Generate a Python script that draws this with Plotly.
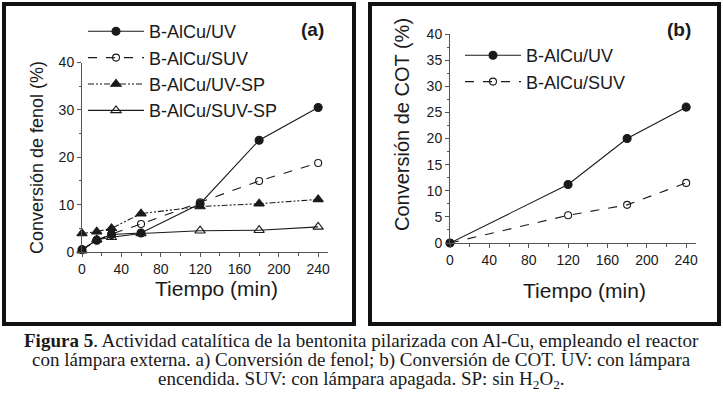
import plotly.graph_objects as go

# ---------------- data ----------------
time_a = [0, 15, 30, 60, 120, 180, 240]
uv_a = [0.5, 2.5, 3.7, 4.0, 10.2, 23.6, 30.5]
suv_a = [0.5, 2.5, 3.8, 5.9, 10.5, 15.0, 18.8]
uvsp_a = [3.9, 4.3, 5.0, 8.1, 9.6, 10.2, 11.1]
suvsp_a = [0.3, 2.6, 3.1, 3.9, 4.5, 4.6, 5.3]

time_b = [0, 120, 180, 240]
uv_b = [0.0, 11.2, 20.0, 26.0]
suv_b = [0.0, 5.3, 7.3, 11.5]

names_a = ["B-AlCu/UV", "B-AlCu/SUV", "B-AlCu/UV-SP", "B-AlCu/SUV-SP"]
names_b = ["B-AlCu/UV", "B-AlCu/SUV"]

x_ticks = [0, 40, 80, 120, 160, 200, 240]
ya_ticks = [0, 10, 20, 30, 40]
yb_ticks = [0, 5, 10, 15, 20, 25, 30, 35, 40]

W, H = 723, 398
FONT = "Arial, Liberation Sans, sans-serif"
SERIF = "Times New Roman, Liberation Serif, serif"
INK = "#1a1a1a"


def px(x):
    return x / W


def py(y):
    return 1 - y / H


fig = go.Figure()

styles_a = [
    dict(dash="solid", symbol="circle", size=8, fill=INK),
    dict(dash="dash", symbol="circle-open", size=7, fill=INK),
    dict(dash="6px,2px,2px,2px,2px,2px", symbol="triangle-up", size=9, fill=INK),
    dict(dash="solid", symbol="triangle-up-open", size=9, fill=INK),
]
series_a = [uv_a, suv_a, uvsp_a, suvsp_a]
for name, ys, st in zip(names_a, series_a, styles_a):
    fig.add_trace(go.Scatter(
        x=time_a, y=ys, name=name, mode="lines+markers",
        xaxis="x", yaxis="y", legend="legend",
        line=dict(color=INK, width=1.1, dash=st["dash"]),
        marker=dict(symbol=st["symbol"], size=st["size"], color=st["fill"],
                    line=dict(color=INK, width=1.1)),
        cliponaxis=False,
    ))

styles_b = [styles_a[0], styles_a[1]]
for name, ys, st in zip(names_b, [uv_b, suv_b], styles_b):
    fig.add_trace(go.Scatter(
        x=time_b, y=ys, name=name, mode="lines+markers",
        xaxis="x2", yaxis="y2", legend="legend2",
        line=dict(color=INK, width=1.1, dash=st["dash"]),
        marker=dict(symbol=st["symbol"], size=st["size"], color=st["fill"],
                    line=dict(color=INK, width=1.1)),
        cliponaxis=False,
    ))

axis_common = dict(
    showgrid=False, zeroline=False, showline=True, linecolor="#555555", linewidth=1,
    ticks="outside", ticklen=4, tickwidth=1, tickcolor="#555555",
    tickfont=dict(family=FONT, size=14, color=INK), automargin=False,
)
minor_x = dict(dtick=20, tick0=0, ticks="outside", ticklen=2.5, tickcolor="#555555")

fig.update_layout(
    width=W, height=H,
    margin=dict(l=0, r=0, t=0, b=0, pad=0, autoexpand=False),
    paper_bgcolor="white", plot_bgcolor="white",
    showlegend=True,
    xaxis=dict(domain=[px(82), px(328)], range=[0, 250], anchor="y",
               tickvals=x_ticks, minor=minor_x, **axis_common),
    yaxis=dict(domain=[py(252), py(62.5)], range=[0, 40], anchor="x",
               tickvals=ya_ticks,
               minor=dict(dtick=5, tick0=0, ticks="outside", ticklen=2.5, tickcolor="#555555"),
               **axis_common),
    xaxis2=dict(domain=[px(450), px(696)], range=[0, 250], anchor="y2",
                tickvals=x_ticks, minor=minor_x, **axis_common),
    yaxis2=dict(domain=[py(243), py(34)], range=[0, 40], anchor="x2",
                tickvals=yb_ticks,
                minor=dict(dtick=2.5, tick0=0, ticks="outside", ticklen=2.5, tickcolor="#555555"),
                **axis_common),
    legend=dict(x=px(83), y=py(13), xanchor="left", yanchor="top",
                bgcolor="rgba(0,0,0,0)", borderwidth=0, itemwidth=56,
                font=dict(family=FONT, size=18, color=INK), tracegroupgap=0,
                itemclick=False),
    legend2=dict(x=px(460), y=py(37), xanchor="left", yanchor="top",
                 bgcolor="rgba(0,0,0,0)", borderwidth=0, itemwidth=56,
                 font=dict(family=FONT, size=18, color=INK), tracegroupgap=0,
                 itemclick=False),
)

# frames around each panel
fig.add_shape(type="rect", xref="paper", yref="paper",
              x0=px(4), x1=px(354), y0=py(324), y1=py(4),
              line=dict(color="#111111", width=4))
fig.add_shape(type="rect", xref="paper", yref="paper",
              x0=px(370), x1=px(719), y0=py(324), y1=py(4),
              line=dict(color="#111111", width=4))

ann = []
# axis titles
ann.append(dict(text="Conversión de fenol (%)", x=px(37), y=py(158), textangle=-90,
                font=dict(family=FONT, size=18, color=INK)))
ann.append(dict(text="Tiempo (min)", x=px(216), y=py(288),
                font=dict(family=FONT, size=21, color=INK)))
ann.append(dict(text="Conversión de COT (%)", x=px(402), y=py(125), textangle=-90,
                font=dict(family=FONT, size=20, color=INK)))
ann.append(dict(text="Tiempo (min)", x=px(584), y=py(290),
                font=dict(family=FONT, size=21, color=INK)))
# panel labels
ann.append(dict(text="<b>(a)</b>", x=px(312), y=py(30),
                font=dict(family=FONT, size=19, color=INK)))
ann.append(dict(text="<b>(b)</b>", x=px(679), y=py(30),
                font=dict(family=FONT, size=19, color=INK)))
# caption
cap = [
    "<b>Figura 5</b>. Actividad catalítica de la bentonita pilarizada con Al-Cu, empleando el reactor",
    "con lámpara externa. a) Conversión de fenol; b) Conversión de COT. UV: con lámpara",
    "encendida. SUV: con lámpara apagada. SP: sin H<sub>2</sub>O<sub>2</sub>.",
]
for i, line in enumerate(cap):
    ann.append(dict(text=line, x=0.5, y=py(340 + 20 * i),
                    font=dict(family=SERIF, size=19, color=INK)))

for a in ann:
    a.update(xref="paper", yref="paper", showarrow=False, xanchor="center", yanchor="middle")
    fig.add_annotation(**a)

fig.write_html("out.html", config={"displayModeBar": False},
               post_script="document.body.style.margin='0';")
